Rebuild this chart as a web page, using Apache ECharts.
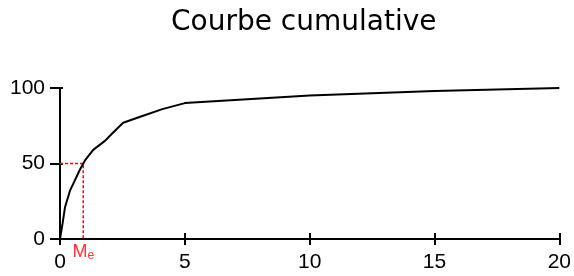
<!DOCTYPE html>
<html><head><meta charset="utf-8">
<script src="https://cdn.jsdelivr.net/npm/echarts@6/dist/echarts.min.js"></script>
<style>html,body{margin:0;padding:0;background:#fff}#c{width:574px;height:276px}</style>
</head><body><div id="c"></div>
<script>
const titleText = "Courbe cumulative";
const curveX = [0, 0.05, 0.1, 0.2, 0.4, 0.6, 0.8, 1.0, 1.33, 1.8, 2.13, 2.53, 3.3, 4.1, 5, 10, 15, 20];
const curveY = [0, 5, 10, 21, 32, 39, 46, 52, 59, 65, 70.5, 77, 81.5, 86, 90, 95, 98, 100];
const medianX = 0.93;
const medianY = 50;
const medianLabel = ["M", "e"];
const xTicks = [0, 5, 10, 15, 20];
const yTicks = [0, 50, 100];

const chart = echarts.init(document.getElementById('c'));
const curve = curveX.map((x, i) => [x, curveY[i]]);
const axisCommon = {
  type: 'value', splitLine: {show: false}
};
chart.setOption({
  animation: false,
  backgroundColor: '#fff',
  title: {
    text: titleText, left: 166, top: 4,
    textStyle: {fontFamily: 'DejaVu Sans', fontSize: 28, fontWeight: 'normal', color: '#000'}
  },
  grid: {left: 60, right: 14, top: 88, bottom: 37},
  xAxis: [
    Object.assign({}, axisCommon, {
      min: xTicks[0], max: xTicks[xTicks.length - 1], interval: 5,
      axisLine: {lineStyle: {color: '#000', width: 2}},
      axisTick: {length: 6, lineStyle: {color: '#000', width: 2}},
      axisLabel: {margin: 13, color: '#000', fontFamily: 'Liberation Sans', fontSize: 21}
    }),
    Object.assign({}, axisCommon, {
      position: 'bottom',
      min: xTicks[0], max: xTicks[xTicks.length - 1], interval: 5,
      axisLine: {show: false},
      axisTick: {inside: true, length: 6, lineStyle: {color: '#000', width: 2}},
      axisLabel: {show: false}
    })
  ],
  yAxis: [
    Object.assign({}, axisCommon, {
      min: yTicks[0], max: yTicks[yTicks.length - 1], interval: 50,
      axisLine: {show: true, lineStyle: {color: '#000', width: 2}},
      axisTick: {show: true, length: 10, lineStyle: {color: '#000', width: 2}},
      axisLabel: {margin: 15, color: '#000', fontFamily: 'Liberation Sans', fontSize: 21}
    }),
    Object.assign({}, axisCommon, {
      position: 'left',
      min: yTicks[0], max: yTicks[yTicks.length - 1], interval: 50,
      axisLine: {show: false},
      axisTick: {show: true, inside: true, length: 3, lineStyle: {color: '#000', width: 2}},
      axisLabel: {show: false}
    })
  ],
  series: [
    {
      type: 'line', data: [[0, medianY], [medianX, medianY], [medianX, 0]],
      symbol: 'none', lineStyle: {color: '#ff0000', width: 1.5, type: [3, 2]}, z: 1
    },
    {
      type: 'line', data: curve, symbol: 'none',
      lineStyle: {color: '#000', width: 2}, z: 2
    },
    {
      type: 'scatter', symbolSize: 0, data: [[medianX, 0]],
      label: {
        show: true, position: 'bottom', distance: 3,
        formatter: '{m|' + medianLabel[0] + '}{e|' + medianLabel[1] + '}',
        rich: {
          m: {color: '#ff0000', fontFamily: 'Liberation Sans', fontSize: 18},
          e: {color: '#ff0000', fontFamily: 'Liberation Sans', fontSize: 12, padding: [8, 0, 0, 0]}
        }
      }
    }
  ]
});
</script></body></html>
